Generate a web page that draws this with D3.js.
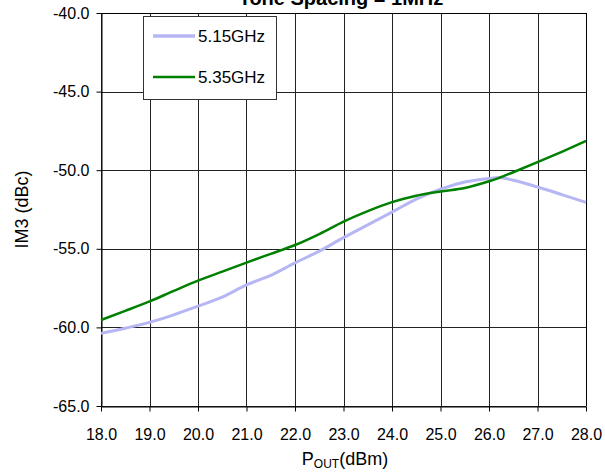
<html><head>
<meta charset="utf-8">
<title>IM3 vs Pout</title>
<script type="text/javascript" src="https://d3js.org/d3.v7.min.js"></script>
<style>
  body { margin: 0; background: #fff; }
  text { font-family: "Liberation Sans", Arial, sans-serif; fill: #000; }
</style>
</head>
<body>
<div id="chart"></div>
<script>

// data
var pout = [18, 18.5, 19, 19.5, 20, 20.5, 21, 21.5, 22, 22.5, 23, 23.5, 24, 24.5, 25, 25.5, 26, 26.2, 26.5, 27, 27.5, 28];
var im3_515 = [-60.38, -60.05, -59.68, -59.2, -58.65, -58.08, -57.29, -56.69, -55.9, -55.15, -54.29, -53.48, -52.67, -51.84, -51.2, -50.75, -50.53, -50.47, -50.64, -51.07, -51.55, -52.05];
var im3_535 = [-59.53, -58.95, -58.35, -57.68, -57.03, -56.45, -55.88, -55.32, -54.76, -54.06, -53.27, -52.6, -52.03, -51.62, -51.35, -51.13, -50.7, -50.5, -50.13, -49.49, -48.83, -48.14];
var seriesNames = ["5.15GHz", "5.35GHz"];
var seriesColors = ["#b6b6f4", "#008000"];
var xTicks = [18, 19, 20, 21, 22, 23, 24, 25, 26, 27, 28];
var yTicks = [-40, -45, -50, -55, -60, -65];

// plot box
var W = 605, H = 474;
var pLeft = 101, pRight = 586, pTop = 13, pBottom = 406;

// plain hyphen instead of unicode minus
var fmt = function(d) { return d.toFixed(1); };

var svg = d3.select("#chart")
  .append("svg")
    .attr("width", W)
    .attr("height", H);

var xScale = d3.scaleLinear().domain([18, 28]).range([pLeft, pRight]);
var yScale = d3.scaleLinear().domain([-65, -40]).range([pBottom, pTop]);

// grid
svg.append("g")
  .selectAll("line")
  .data(xTicks)
  .enter().append("line")
    .attr("x1", function(d) { return Math.round(xScale(d)) + 0.5; })
    .attr("x2", function(d) { return Math.round(xScale(d)) + 0.5; })
    .attr("y1", pTop)
    .attr("y2", pBottom)
    .attr("stroke", "#222");

svg.append("g")
  .selectAll("line")
  .data(yTicks)
  .enter().append("line")
    .attr("x1", pLeft)
    .attr("x2", pRight)
    .attr("y1", function(d) { return Math.round(yScale(d)) + 0.5; })
    .attr("y2", function(d) { return Math.round(yScale(d)) + 0.5; })
    .attr("stroke", "#222");

// axes
var xAxis = d3.axisBottom(xScale)
    .tickValues(xTicks)
    .tickFormat(fmt)
    .tickSize(5)
    .tickSizeOuter(0);

var gx = svg.append("g")
    .attr("transform", "translate(0," + (pBottom + 0.5) + ")")
    .call(xAxis);
gx.select(".domain").attr("stroke", "#000");
gx.selectAll(".tick line").attr("stroke", "#000");
gx.selectAll(".tick text")
    .attr("dy", null)
    .attr("y", 33)
    .style("font-size", "16px")
    .style("font-family", "Liberation Sans, Arial, sans-serif");

var yAxis = d3.axisLeft(yScale)
    .tickValues(yTicks)
    .tickFormat(fmt)
    .tickSize(5)
    .tickSizeOuter(0);

var gy = svg.append("g")
    .attr("transform", "translate(" + (pLeft + 0.5) + ",0)")
    .call(yAxis);
gy.select(".domain").attr("stroke", "#000");
gy.selectAll(".tick line").attr("stroke", "#000");
gy.selectAll(".tick text")
    .attr("x", -12)
    .style("font-size", "16px")
    .style("font-family", "Liberation Sans, Arial, sans-serif");

// top and right border
svg.append("path")
    .attr("d", "M" + pLeft + "," + (pTop + 0.5) + "H" + (pRight + 0.5) + "V" + pBottom)
    .attr("fill", "none")
    .attr("stroke", "#000");

// lines
var line = d3.line()
    .x(function(d) { return xScale(d[0]); })
    .y(function(d) { return yScale(d[1]); })
    .curve(d3.curveMonotoneX);

svg.append("path")
    .datum(d3.zip(pout, im3_515))
    .attr("fill", "none")
    .attr("stroke", seriesColors[0])
    .attr("stroke-width", 3)
    .attr("d", line);

svg.append("path")
    .datum(d3.zip(pout, im3_535))
    .attr("fill", "none")
    .attr("stroke", seriesColors[1])
    .attr("stroke-width", 2.5)
    .attr("d", line);

// legend
svg.append("rect")
    .attr("x", 143.5)
    .attr("y", 16.5)
    .attr("width", 133)
    .attr("height", 83)
    .attr("fill", "#fff")
    .attr("stroke", "#333");

var legendY = [36, 77];
seriesNames.forEach(function(name, i) {
  svg.append("line")
      .attr("x1", 153)
      .attr("x2", 195)
      .attr("y1", legendY[i])
      .attr("y2", legendY[i])
      .attr("stroke", seriesColors[i])
      .attr("stroke-width", i == 0 ? 3.5 : 2.5);
  svg.append("text")
      .attr("x", 198)
      .attr("y", legendY[i] + 6)
      .style("font-size", "17px")
      .text(name);
});

// titles (cut off at the top edge, as in the original)
svg.append("text")
    .attr("x", 341)
    .attr("y", 5)
    .attr("text-anchor", "middle")
    .style("font-size", "20px")
    .style("font-weight", "bold")
    .text("Tone Spacing = 1MHz");

var xt = svg.append("text")
    .attr("x", 345)
    .attr("y", 465)
    .attr("text-anchor", "middle")
    .style("font-size", "18px");
xt.append("tspan").text("P");
xt.append("tspan").attr("dy", 3).style("font-size", "12px").text("OUT");
xt.append("tspan").attr("dy", -3).text("(dBm)");

svg.append("text")
    .attr("transform", "translate(28," + ((pTop + pBottom) / 2) + ") rotate(-90)")
    .attr("text-anchor", "middle")
    .style("font-size", "18px")
    .text("IM3 (dBc)");

</script>
</body></html>
